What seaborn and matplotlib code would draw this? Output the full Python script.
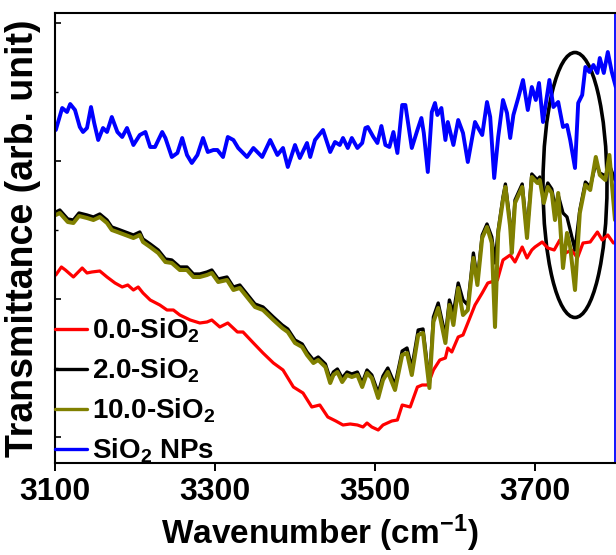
import numpy as np
import pandas as pd
import matplotlib
matplotlib.use("Agg")
import matplotlib.pyplot as plt
from matplotlib.patches import Ellipse
import seaborn as sns

# ---- spectra (wavenumber in cm^-1, transmittance in arbitrary units) ----
red_wn = [3101, 3108, 3113, 3123, 3134, 3140, 3146, 3156, 3165, 3175, 3184, 3191, 3198, 3204,
          3210, 3219, 3231, 3240, 3248, 3256, 3269, 3281, 3290, 3296, 3306, 3316, 3328, 3335,
          3348, 3360, 3373, 3385, 3398, 3410, 3421, 3431, 3441, 3451, 3460, 3469, 3478, 3485,
          3490, 3496, 3504, 3510, 3521, 3528, 3534, 3544, 3553, 3559, 3566, 3573, 3581, 3588,
          3591, 3596, 3604, 3610, 3616, 3625, 3634, 3641, 3653, 3660, 3669, 3675, 3684, 3690,
          3696, 3700, 3709, 3716, 3724, 3731, 3738, 3746, 3753, 3760, 3769, 3778, 3784, 3791,
          3798]
red_t = [188, 196, 193, 186, 195, 190, 191, 192, 186, 180, 176, 178, 173, 176,
         170, 163, 158, 153, 153, 148, 143, 140, 141, 143, 136, 140, 131, 131,
         120, 110, 100, 93, 76, 70, 56, 58, 46, 42, 38, 39, 38, 36,
         40, 36, 33, 38, 42, 43, 58, 56, 76, 78, 78, 93, 103, 105,
         115, 111, 126, 128, 140, 158, 170, 180, 183, 203, 208, 201, 216, 205,
         213, 216, 221, 215, 213, 223, 210, 213, 205, 220, 221, 231, 223, 228,
         220]

comp_wn = [3101, 3106, 3116, 3123, 3130, 3140, 3148, 3156, 3165, 3171,
           3178, 3188, 3198, 3206, 3210, 3219, 3229, 3238, 3246, 3256,
           3265, 3273, 3281, 3290, 3296, 3304, 3315, 3323, 3331, 3340,
           3350, 3360, 3373, 3384, 3391, 3400, 3409, 3415, 3423, 3429,
           3438, 3444, 3448, 3453, 3459, 3465, 3471, 3478, 3484, 3490,
           3496, 3504, 3510, 3516, 3525, 3534, 3540, 3546, 3554, 3560,
           3568, 3573, 3579, 3588, 3593, 3598, 3604, 3610, 3616, 3623,
           3628, 3634, 3640, 3646, 3650, 3654, 3660, 3663, 3669, 3671,
           3675, 3684, 3690, 3696, 3703, 3706, 3711, 3716, 3721, 3725,
           3729, 3735, 3740, 3744, 3750, 3756, 3763, 3769, 3776, 3781,
           3788, 3793, 3800]
black_t = [251, 253, 244, 243, 250, 248, 246, 249, 243, 236,
           234, 231, 228, 231, 224, 219, 213, 204, 203, 196,
           196, 189, 189, 191, 193, 184, 186, 176, 178, 169,
           159, 156, 146, 138, 134, 123, 119, 111, 103, 106,
           99, 84, 91, 94, 85, 91, 89, 91, 80, 93,
           88, 70, 87, 95, 78, 112, 115, 95, 133, 134,
           80, 146, 160, 127, 163, 150, 180, 163, 158, 210,
           183, 228, 239, 226, 200, 233, 266, 279, 240, 215,
           263, 279, 230, 289, 283, 286, 265, 280, 274, 255,
           268, 250, 246, 233, 213, 253, 281, 276, 300, 290,
           287, 298, 283]
olive_t = [248, 250, 241, 240, 247, 245, 243, 246, 240, 233,
           231, 228, 225, 228, 221, 216, 210, 201, 200, 193,
           193, 186, 186, 188, 190, 181, 183, 173, 175, 166,
           156, 153, 143, 135, 131, 120, 116, 108, 100, 103,
           96, 80, 88, 91, 81, 88, 86, 88, 76, 90,
           85, 65, 83, 91, 73, 108, 110, 88, 128, 130,
           75, 141, 155, 120, 158, 138, 175, 148, 153, 205,
           178, 225, 236, 220, 136, 230, 263, 276, 236, 210,
           260, 276, 225, 286, 280, 283, 260, 276, 270, 243,
           270, 195, 230, 216, 173, 250, 278, 273, 306, 288,
           283, 308, 243]

blue_wn = [3101, 3109, 3115, 3119, 3125, 3131, 3135, 3140, 3145, 3149, 3154, 3160, 3165, 3171,
           3178, 3184, 3190, 3198, 3206, 3213, 3219, 3225, 3234, 3238, 3246, 3253, 3259, 3265,
           3271, 3278, 3285, 3291, 3298, 3303, 3310, 3316, 3323, 3329, 3340, 3348, 3359, 3369,
           3378, 3385, 3391, 3400, 3406, 3415, 3419, 3425, 3435, 3444, 3450, 3456, 3460, 3466,
           3471, 3478, 3484, 3488, 3491, 3498, 3503, 3508, 3513, 3518, 3523, 3528, 3534, 3538,
           3546, 3553, 3558, 3561, 3566, 3571, 3575, 3578, 3583, 3588, 3591, 3598, 3604, 3610,
           3616, 3625, 3629, 3634, 3640, 3644, 3649, 3654, 3660, 3665, 3669, 3673, 3679, 3685,
           3691, 3696, 3701, 3705, 3710, 3718, 3723, 3729, 3735, 3740, 3744, 3750, 3754, 3759,
           3763, 3768, 3773, 3778, 3781, 3786, 3791, 3796, 3801]
blue_t = [333, 355, 351, 359, 353, 336, 331, 335, 356, 340, 323, 335, 331, 346,
          331, 326, 335, 318, 328, 331, 316, 316, 331, 325, 306, 310, 325, 308,
          300, 308, 325, 311, 313, 313, 306, 326, 323, 315, 306, 315, 306, 323,
          308, 315, 296, 318, 305, 320, 306, 323, 333, 311, 321, 318, 325, 315,
          325, 315, 320, 335, 336, 326, 320, 337, 318, 316, 331, 310, 358, 358,
          315, 333, 345, 330, 291, 351, 360, 348, 355, 323, 341, 318, 343, 330,
          301, 341, 335, 328, 361, 346, 285, 326, 363, 350, 325, 348, 365, 383,
          353, 376, 363, 380, 341, 383, 356, 361, 336, 338, 323, 295, 360, 368,
          396, 391, 398, 390, 405, 390, 411, 391, 376]

labels = ["0.0-SiO$_2$", "2.0-SiO$_2$", "10.0-SiO$_2$", "SiO$_2$ NPs"]
colors = ["#ff0000", "#000000", "#808000", "#0000ff"]
widths = [2.3, 2.4, 2.9, 2.8]

# Si-OH band highlighted by an ellipse (centre, width, height in data units)
mark_center = (3750, 278)
mark_size = (80, 265)

sns.set_style("ticks")
plt.rcParams["font.family"] = ["Liberation Sans", "DejaVu Sans"]
plt.rcParams["font.weight"] = "bold"
plt.rcParams["mathtext.default"] = "regular"
for key in ["text.color", "axes.labelcolor", "xtick.color", "ytick.color", "axes.edgecolor"]:
    plt.rcParams[key] = "black"

frames = [
    pd.DataFrame({"wn": red_wn, "T": red_t}),
    pd.DataFrame({"wn": comp_wn, "T": black_t}),
    pd.DataFrame({"wn": comp_wn, "T": olive_t}),
    pd.DataFrame({"wn": blue_wn, "T": blue_t}),
]

fig = plt.figure(figsize=(6.16, 5.55), dpi=100)
ax = fig.add_axes([55 / 616, 92 / 555, 560 / 616, 450 / 555])

for df, lab, col, lw in zip(frames, labels, colors, widths):
    sns.lineplot(data=df, x="wn", y="T", ax=ax, color=col, linewidth=lw,
                 label=lab, sort=False, estimator=None)

ax.add_patch(Ellipse(mark_center, mark_size[0], mark_size[1], fill=False,
                     edgecolor="black", linewidth=2.6))

ax.set_xlim(3100, 3800)
ax.set_ylim(0, 450)
ax.set_xticks([3100, 3300, 3500, 3700])
ax.set_yticks([26, 164, 302, 440])
ax.set_yticks([95, 233, 371], minor=True)
ax.set_yticklabels([])
ax.tick_params(axis="x", which="major", direction="out", length=6, width=1.4,
               labelsize=23, pad=4)
ax.tick_params(axis="y", which="major", direction="in", length=4, width=1.2, left=True)
ax.tick_params(axis="y", which="minor", direction="in", length=2.5, width=1.0, left=True)
for lab in ax.get_xticklabels():
    lab.set_fontweight("bold")

for side in ["left", "bottom", "top"]:
    ax.spines[side].set_visible(True)
    ax.spines[side].set_linewidth(1.5)
    ax.spines[side].set_color("black")
ax.spines["right"].set_visible(True)
ax.spines["right"].set_linewidth(1.3)
ax.spines["right"].set_color("#0000ff")

ax.set_xlabel("Wavenumber (cm$^{-1}$)", fontsize=24, fontweight="bold", labelpad=2)
ax.xaxis.set_label_coords(0.473, -0.109)
ax.set_ylabel("Transmittance (arb. unit)", fontsize=27, fontweight="bold")
ax.yaxis.set_label_coords(-0.025, 0.5)

leg = ax.legend(loc="lower left", bbox_to_anchor=(0.0, -0.005), frameon=False,
                borderaxespad=0, borderpad=0, handlelength=1.15, handletextpad=0.2,
                labelspacing=0.42, prop={"size": 20, "weight": "bold"})
for line in leg.get_lines():
    line.set_linewidth(2.4)

fig.savefig("out.png", dpi=100)
